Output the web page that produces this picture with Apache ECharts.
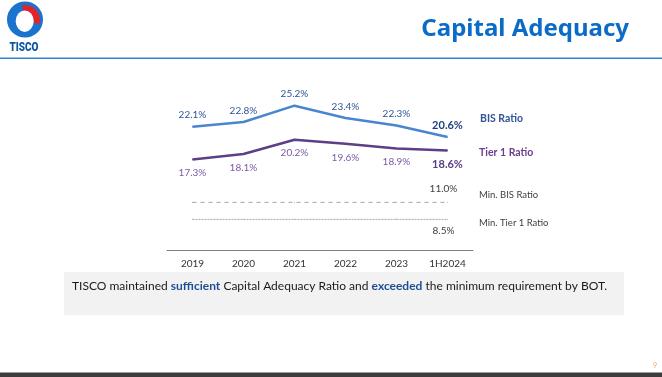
<!DOCTYPE html>
<html>
<head>
<meta charset="utf-8">
<script src="https://cdn.jsdelivr.net/npm/echarts@6.0.0/dist/echarts.min.js"></script>
<style>
    html, body { margin: 0; padding: 0; background: #fff; }
    #chart { width: 662px; height: 377px; }
</style>
</head>
<body>
<div id="chart"></div>
<script>
const categories = ['2019', '2020', '2021', '2022', '2023', '1H2024']
const bisRatio = [22.1, 22.8, 25.2, 23.4, 22.3, 20.6]
const tier1Ratio = [17.3, 18.1, 20.2, 19.6, 18.9, 18.6]
const minBisRatio = [11.0, 11.0, 11.0, 11.0, 11.0, 11.0]
const minTier1Ratio = [8.5, 8.5, 8.5, 8.5, 8.5, 8.5]

const font = 'Lato, "Noto Sans", sans-serif'
const pct = (v) => v.toFixed(1) + '%'

// last point gets the bold, darker label
const withLastBold = (arr, color) => arr.map((v, i) => {
    if (i !== arr.length - 1) return v
    return { value: v, label: { fontWeight: 'bold', fontSize: 11, color: color } }
})
// only the last point of the minimum lines carries a label
const lastOnly = (arr, pos, dist) => arr.map((v, i) => {
    if (i !== arr.length - 1) return v
    return { value: v, label: { show: true, position: pos, distance: dist, offset: [-4, 0] } }
})

const chart = echarts.init(document.getElementById('chart'))

chart.setOption({
    animation: false,
    backgroundColor: '#fff',
    textStyle: { fontFamily: font },
    grid: {
        left: 167,
        right: 189,
        top: 73,
        bottom: 127,
    },
    xAxis: {
        type: 'category',
        data: categories,
        axisLine: { lineStyle: { color: '#7f7f7f', width: 1 } },
        axisTick: { show: false },
        axisLabel: { color: '#333', fontSize: 10, margin: 9, fontFamily: font },
    },
    yAxis: {
        type: 'value',
        min: 4,
        max: 30,
        show: false,
        splitLine: { show: false },
    },
    series: [
        {
            name: 'BIS Ratio',
            type: 'line',
            data: withLastBold(bisRatio, '#1f3f7c'),
            symbol: 'circle',
            symbolSize: 1,
            lineStyle: { color: '#4a86cf', width: 2.5 },
            itemStyle: { color: '#4a86cf' },
            label: {
                show: true,
                position: 'top',
                distance: 6,
                color: '#2f5597',
                fontSize: 10,
                fontFamily: font,
                formatter: (p) => pct(p.value),
            },
            emphasis: { disabled: true },
        },
        {
            name: 'Tier 1 Ratio',
            type: 'line',
            data: withLastBold(tier1Ratio, '#5a3b86'),
            symbol: 'circle',
            symbolSize: 1,
            lineStyle: { color: '#5c3f87', width: 2.5 },
            itemStyle: { color: '#5c3f87' },
            label: {
                show: true,
                position: 'bottom',
                distance: 8,
                color: '#7a5aa6',
                fontSize: 10,
                fontFamily: font,
                formatter: (p) => pct(p.value),
            },
            emphasis: { disabled: true },
        },
        {
            name: 'Min. BIS Ratio',
            type: 'line',
            data: lastOnly(minBisRatio, 'top', 8),
            symbol: 'circle',
            symbolSize: 1,
            lineStyle: { color: '#a6a6a6', width: 1, type: [4, 4] },
            itemStyle: { color: '#a6a6a6' },
            label: {
                show: false,
                color: '#404040',
                fontSize: 10,
                fontFamily: font,
                formatter: (p) => pct(p.value),
            },
            emphasis: { disabled: true },
        },
        {
            name: 'Min. Tier 1 Ratio',
            type: 'line',
            data: lastOnly(minTier1Ratio, 'bottom', 6),
            symbol: 'circle',
            symbolSize: 1,
            lineStyle: { color: '#a6a6a6', width: 1, type: [2, 1] },
            itemStyle: { color: '#a6a6a6' },
            label: {
                show: false,
                color: '#404040',
                fontSize: 10,
                fontFamily: font,
                formatter: (p) => pct(p.value),
            },
            emphasis: { disabled: true },
        },
    ],
    graphic: [
        // logo
        { type: 'circle', shape: { cx: 25, cy: 19.5, r: 18 }, style: { fill: '#1a73cc' } },
        { type: 'sector', shape: { cx: 25, cy: 20, r: 15, r0: 8, startAngle: -Math.PI / 2 - 0.2, endAngle: 0.3 }, style: { fill: '#e3232c' } },
        { type: 'circle', shape: { cx: 0, cy: 0, r: 9 }, x: 24.7, y: 21.2, scaleY: 1.2, style: { fill: '#fff' } },
        {
            type: 'text', x: 24, y: 48, scaleY: 1.25,
            style: { text: 'TISCO', fill: '#0d56a6', font: '900 10px Roboto, sans-serif', align: 'center', verticalAlign: 'middle' },
        },
        // title
        {
            type: 'text', right: 33, top: 17,
            style: { text: 'Capital Adequacy', fill: '#0b6cc8', font: 'bold 24px "Noto Sans", sans-serif' },
        },
        { type: 'rect', shape: { x: 0, y: 57.5, width: 662, height: 1.5 }, style: { fill: '#2f83d3' } },
        // series names on the right
        {
            type: 'text', x: 480, y: 119,
            style: { text: 'BIS Ratio', fill: '#2f5597', font: 'bold 10.5px ' + font, verticalAlign: 'middle' },
        },
        {
            type: 'text', x: 479, y: 153,
            style: { text: 'Tier 1 Ratio', fill: '#6b3e91', font: 'bold 10.5px ' + font, verticalAlign: 'middle' },
        },
        {
            type: 'text', x: 479, y: 195,
            style: { text: 'Min. BIS Ratio', fill: '#404040', font: '9.5px ' + font, verticalAlign: 'middle' },
        },
        {
            type: 'text', x: 479, y: 223,
            style: { text: 'Min. Tier 1 Ratio', fill: '#404040', font: '9.5px ' + font, verticalAlign: 'middle' },
        },
        // note box
        { type: 'rect', shape: { x: 64, y: 272, width: 560, height: 43 }, style: { fill: '#f2f2f2' } },
        {
            type: 'text', x: 72, y: 286,
            style: {
                text: 'TISCO maintained {b|sufficient} Capital Adequacy Ratio and {b|exceeded} the minimum requirement by BOT.',
                fill: '#1a1a1a',
                font: '12px ' + font,
                verticalAlign: 'middle',
                rich: {
                    b: { fill: '#1f4e96', fontWeight: 'bold', fontSize: 12, fontFamily: font },
                },
            },
        },
        // footer
        {
            type: 'text', x: 655, y: 366,
            style: { text: '9', fill: '#e8a878', font: '7px ' + font, align: 'center', verticalAlign: 'middle' },
        },
        { type: 'rect', shape: { x: 0, y: 372.5, width: 662, height: 5 }, style: { fill: '#3c3c3c' } },
    ],
})
</script>
</body>
</html>
